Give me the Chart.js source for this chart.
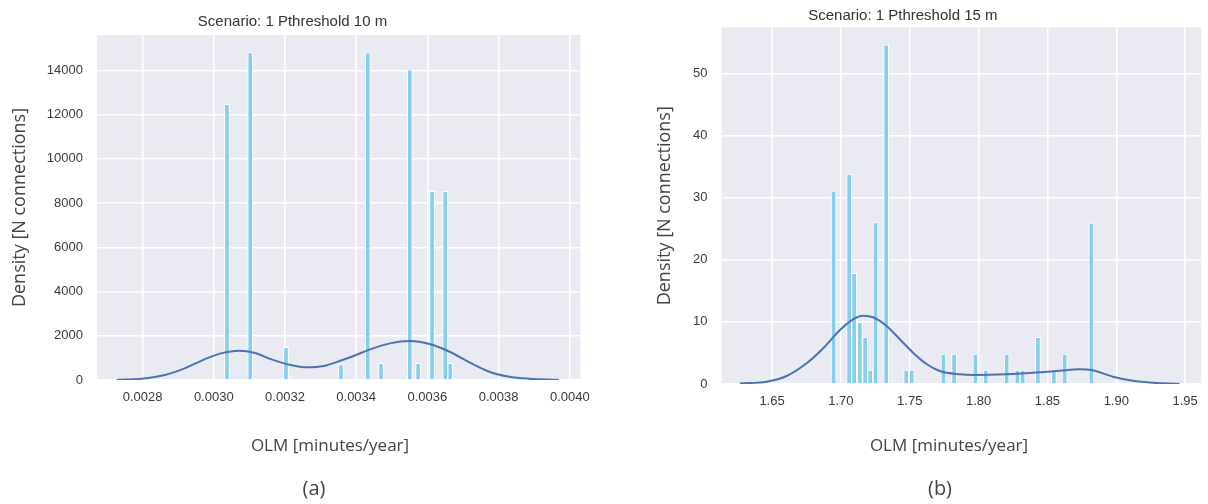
<!DOCTYPE html>
<html><head><meta charset="utf-8">
<script src="https://cdn.jsdelivr.net/npm/chart.js@4.4.0/dist/chart.umd.min.js"></script>
<style>
html,body{margin:0;padding:0;background:#fff;width:1208px;height:504px;overflow:hidden;}
.box{position:absolute;top:0;height:504px;}
#boxA{left:0;width:600px;}
#boxB{left:604px;width:604px;}
.lbl{position:absolute;font-family:'Open Sans',sans-serif;font-weight:400;color:#444444;white-space:nowrap;transform:translate(-50%,-50%);}
</style></head><body>
<div class="box" id="boxA"><canvas id="cA" width="600" height="504" style="width:600px;height:504px"></canvas></div>
<div class="box" id="boxB"><canvas id="cB" width="604" height="504" style="width:604px;height:504px"></canvas></div>
<div class="lbl" style="left:330px;top:444px;font-size:17px">OLM [minutes/year]</div>
<div class="lbl" style="left:949px;top:444px;font-size:17px">OLM [minutes/year]</div>
<div class="lbl" style="left:314px;top:487px;font-size:20px">(a)</div>
<div class="lbl" style="left:940px;top:487px;font-size:20px">(b)</div>
<script>
// ---- Panel (a): Scenario 1, Pthreshold 10 m ----
const titleA = 'Scenario: 1 Pthreshold 10 m';
const barXA = [0.0030371, 0.0031024, 0.0032029, 0.0033572, 0.0034326, 0.0034697, 0.0035506, 0.0035740, 0.0036131, 0.0036502, 0.0036642];
const barYA = [12460, 14800, 1480, 700, 14800, 750, 14030, 750, 8530, 8530, 750];
const kdeXA = [0.0027273, 0.0027971, 0.0028624, 0.0029182, 0.0029740, 0.0030204, 0.0030717, 0.0031136, 0.0031599, 0.0032157, 0.0032623, 0.0033089, 0.0033553, 0.0033927, 0.0034390, 0.0034948, 0.0035506, 0.0036064, 0.0036622, 0.0037180, 0.0037739, 0.0038297, 0.0038855, 0.0039692];
const kdeYA = [5, 59, 226, 528, 935, 1205, 1323, 1233, 948, 677, 573, 632, 871, 1084, 1386, 1657, 1761, 1625, 1278, 799, 375, 149, 59, 10];
const xTicksA = [0.0028, 0.0030, 0.0032, 0.0034, 0.0036, 0.0038, 0.0040];
const xTickLabelsA = ['0.0028', '0.0030', '0.0032', '0.0034', '0.0036', '0.0038', '0.0040'];
const yTicksA = [0, 2000, 4000, 6000, 8000, 10000, 12000, 14000];
const yTickLabelsA = ['0', '2000', '4000', '6000', '8000', '10000', '12000', '14000'];

// ---- Panel (b): Scenario 1, Pthreshold 15 m ----
const titleB = 'Scenario: 1 Pthreshold 15 m';
const barXB = [1.6947, 1.7060, 1.7096, 1.7138, 1.7176, 1.7213, 1.7252, 1.7329, 1.7474, 1.7515, 1.7745, 1.7822, 1.7977, 1.8052, 1.8204, 1.8282, 1.8320, 1.8431, 1.8547, 1.8625, 1.8819];
const barYB = [31.1, 33.8, 17.8, 9.9, 7.5, 2.25, 26.0, 54.6, 2.25, 2.25, 4.8, 4.8, 4.8, 2.25, 4.8, 2.25, 2.25, 7.5, 2.25, 4.8, 25.9];
const kdeXB = [1.6267, 1.6461, 1.6606, 1.6751, 1.6872, 1.6993, 1.7089, 1.7162, 1.7234, 1.7332, 1.7428, 1.7524, 1.7622, 1.7718, 1.7863, 1.7960, 1.8202, 1.8444, 1.8589, 1.8734, 1.8819, 1.8975, 1.9120, 1.9266, 1.9459];
const kdeYB = [0.1, 0.37, 1.29, 3.33, 5.75, 8.70, 10.42, 11.0, 10.74, 9.34, 7.20, 5.04, 3.22, 2.09, 1.56, 1.45, 1.56, 1.88, 2.14, 2.37, 2.25, 1.18, 0.53, 0.21, 0.05];
const xTicksB = [1.65, 1.70, 1.75, 1.80, 1.85, 1.90, 1.95];
const xTickLabelsB = ['1.65', '1.70', '1.75', '1.80', '1.85', '1.90', '1.95'];
const yTicksB = [0, 10, 20, 30, 40, 50];
const yTickLabelsB = ['0', '10', '20', '30', '40', '50'];

const yTitle = 'Density [N connections]';

const bgPlugin = {
  id: 'bg',
  beforeDraw(c) {
    const a = c.chartArea, ctx = c.ctx;
    ctx.save();
    ctx.fillStyle = '#eaeaf2';
    ctx.fillRect(a.left, a.top, a.right - a.left, a.bottom - a.top);
    ctx.restore();
  }
};

function makeChart(id, p) {
  return new Chart(document.getElementById(id), {
    type: 'bar',
    data: {
      datasets: [
        {
          type: 'line',
          data: p.kdeX.map((x, i) => ({x: x, y: p.kdeY[i]})),
          borderColor: '#4c72b0',
          borderWidth: 2,
          pointRadius: 0,
          fill: false,
          cubicInterpolationMode: 'monotone',
          order: 0
        },
        {
          type: 'bar',
          data: p.barX.map((x, i) => ({x: x, y: p.barY[i]})),
          backgroundColor: '#87ceeb',
          borderColor: '#ffffff',
          borderWidth: 1,
          borderSkipped: 'bottom',
          barThickness: p.barW,
          order: 1
        }
      ]
    },
    options: {
      responsive: false,
      animation: false,
      events: [],
      layout: {padding: {left: 0, right: p.padR, top: 0, bottom: 0}},
      plugins: {
        legend: {display: false},
        tooltip: {enabled: false},
        title: {
          display: true, text: p.title, color: '#333333',
          font: {family: "'Liberation Sans', Arial, sans-serif", size: 15, weight: 'normal'},
          padding: {top: p.tPadT, bottom: p.tPadB}
        }
      },
      scales: {
        x: {
          type: 'linear', min: p.xMin, max: p.xMax, offset: false,
          grid: {color: '#ffffff', lineWidth: 1.5, drawTicks: false, offset: false},
          border: {display: false},
          ticks: {
            color: '#3a3a3a', padding: 10, maxRotation: 0, autoSkip: false,
            font: {family: "'Liberation Sans', Arial, sans-serif", size: 13},
            callback: (v, i) => p.xLabels[i]
          },
          afterBuildTicks: s => { s.ticks = p.xTicks.map(v => ({value: v})); },
          afterFit: s => { s.height = p.xH; }
        },
        y: {
          type: 'linear', min: 0, max: p.yMax,
          grid: {color: '#ffffff', lineWidth: 1.5, drawTicks: false},
          border: {display: false},
          ticks: {
            color: '#3a3a3a', padding: 14, autoSkip: false,
            font: {family: "'Liberation Sans', Arial, sans-serif", size: 13},
            callback: (v, i) => p.yLabels[i]
          },
          afterBuildTicks: s => { s.ticks = p.yTicks.map(v => ({value: v})); },
          title: {
            display: true, text: yTitle, color: '#444444',
            font: {family: "'Open Sans', sans-serif", size: 18, weight: 'normal'},
            padding: {top: p.yTitlePad, bottom: 0}
          },
          afterFit: s => { s.width = p.yW; }
        }
      }
    },
    plugins: [bgPlugin]
  });
}

makeChart('cA', {
  title: titleA, barX: barXA, barY: barYA, kdeX: kdeXA, kdeY: kdeYA,
  xTicks: xTicksA, xLabels: xTickLabelsA, yTicks: yTicksA, yLabels: yTickLabelsA,
  xMin: 0.002672, xMax: 0.00403, yMax: 15600, barW: 5,
  padR: 15, tPadT: 13, tPadB: 4, xH: 124, yW: 97, yTitlePad: 9
});
makeChart('cB', {
  title: titleB, barX: barXB, barY: barYB, kdeX: kdeXB, kdeY: kdeYB,
  xTicks: xTicksB, xLabels: xTickLabelsB, yTicks: yTicksB, yLabels: yTickLabelsB,
  xMin: 1.6133, xMax: 1.9617, yMax: 57.4, barW: 5,
  padR: 6.3, tPadT: 6.5, tPadB: 3, xH: 120, yW: 117.5, yTitlePad: 50
});
</script>
</body></html>
